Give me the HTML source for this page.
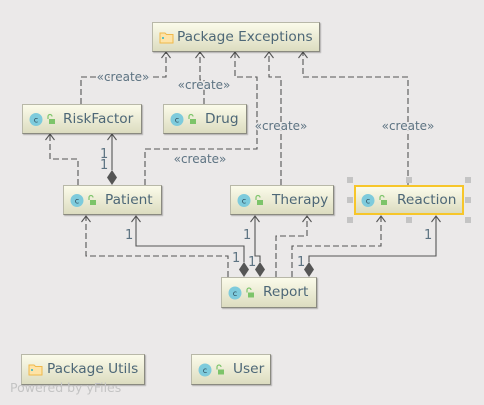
<!DOCTYPE html>
<html><head><meta charset="utf-8"><style>
html,body{margin:0;padding:0;}
body{width:484px;height:405px;background:#ebe9e9;position:relative;overflow:hidden;font-family:"DejaVu Sans","Liberation Sans",sans-serif;}
.n{position:absolute;box-sizing:border-box;border:1px solid #b8b8a8;border-right-color:#8a8a80;border-bottom-color:#8a8a80;background:linear-gradient(#fbfbea,#dcdcc0);box-shadow:1px 1px 1px rgba(0,0,0,0.25);color:#4d6777;font-size:13.7px;}
.n span{position:absolute;top:0;line-height:28px;white-space:nowrap;}
.n svg{position:absolute;top:0;left:0;}
svg.e{position:absolute;left:0;top:0;}
.ft{position:absolute;left:10px;top:380px;font-size:12.5px;color:#c4c4c4;}
</style></head><body>
<svg class="e" width="484" height="405" viewBox="0 0 484 405">
<defs>
<marker id="a" markerWidth="10" markerHeight="10" refX="5" refY="1" orient="0" markerUnits="userSpaceOnUse"><path d="M0.5,7 L5,1 L9.5,7" fill="none" stroke="#555" stroke-width="1.1"/></marker>
</defs>
<g fill="none" stroke="#555" stroke-width="1.1" stroke-dasharray="6,3">
<path d="M81,104 V77 H166 V52" marker-end="url(#a)"/>
<path d="M204,104 V80 H200 V52" marker-end="url(#a)"/>
<path d="M145,185 V149 H257 V77 H235 V52" marker-end="url(#a)"/>
<path d="M281,185 V77 H269 V52" marker-end="url(#a)"/>
<path d="M408,185 V77 H303 V52" marker-end="url(#a)"/>
<path d="M78,185 V159 H50 V134" marker-end="url(#a)"/>
<path d="M228,277 V256 H86 V216" marker-end="url(#a)"/>
<path d="M276,277 V236 H307 V216" marker-end="url(#a)"/>
<path d="M292,277 V246 H381 V216" marker-end="url(#a)"/>
</g>
<g fill="none" stroke="#555" stroke-width="1.1">
<path d="M112,170 V134" marker-end="url(#a)"/>
<path d="M244,262 V246 H136 V216" marker-end="url(#a)"/>
<path d="M260,262 V256 H255 V216" marker-end="url(#a)"/>
<path d="M309,262 V256 H436 V216" marker-end="url(#a)"/>
</g>
<g fill="#555">
<path d="M112,170 L117,177.5 L112,185 L107,177.5Z"/>
<path d="M244,262 L249,269.5 L244,277 L239,269.5Z"/>
<path d="M260,262 L265,269.5 L260,277 L255,269.5Z"/>
<path d="M309,262 L314,269.5 L309,277 L304,269.5Z"/>
</g>
<g font-family="DejaVu Sans,Liberation Sans,sans-serif" font-size="12" fill="#5d7382">
<text x="123" y="81" text-anchor="middle" stroke="#ebe9e9" stroke-width="3" paint-order="stroke">«create»</text>
<text x="204" y="89" text-anchor="middle" stroke="#ebe9e9" stroke-width="3" paint-order="stroke">«create»</text>
<text x="200" y="163" text-anchor="middle" stroke="#ebe9e9" stroke-width="3" paint-order="stroke">«create»</text>
<text x="281" y="130" text-anchor="middle" stroke="#ebe9e9" stroke-width="3" paint-order="stroke">«create»</text>
<text x="408" y="130" text-anchor="middle" stroke="#ebe9e9" stroke-width="3" paint-order="stroke">«create»</text>
<text x="100" y="158" font-size="13">1</text>
<text x="100" y="169" font-size="13">1</text>
<text x="125" y="239" font-size="13">1</text>
<text x="232" y="262" font-size="13">1</text>
<text x="243" y="239" font-size="13">1</text>
<text x="248" y="266" font-size="13">1</text>
<text x="424" y="239" font-size="13">1</text>
<text x="297" y="266" font-size="13">1</text>
</g>
<g fill="#c4c4c4">
<rect x="347" y="177" width="6" height="6"/><rect x="406" y="177" width="6" height="6"/><rect x="465" y="177" width="6" height="6"/>
<rect x="347" y="197" width="6" height="6"/><rect x="465" y="197" width="6" height="6"/>
<rect x="347" y="217" width="6" height="6"/><rect x="406" y="217" width="6" height="6"/><rect x="465" y="217" width="6" height="6"/>
</g>
</svg>

<div class="n" style="left:152px;top:22px;width:168px;height:30px;"><svg width="30" height="30"><path d="M7,10 H12 L13.5,11.5 H20 V20 H7Z" fill="#fde3a7" stroke="#f0b84a" stroke-width="1"/><rect x="9" y="14" width="2" height="2" fill="#5bbfbf"/></svg><span style="left:24px;">Package Exceptions</span></div>

<div class="n" style="left:22px;top:104px;width:120px;height:30px;"><svg width="40" height="30"><circle cx="13" cy="14.5" r="6.5" fill="#7ecbdc"/><text x="13" y="17.5" font-size="8" font-family="DejaVu Sans,sans-serif" fill="#2c4a5a" text-anchor="middle">c</text><rect x="26" y="14" width="6" height="5" fill="#7dc46a"/><path d="M25,14 V11.5 A2,2 0 0 1 29,11.5" fill="none" stroke="#7dc46a" stroke-width="1.2"/></svg><span style="left:40px;">RiskFactor</span></div>

<div class="n" style="left:163px;top:104px;width:84px;height:30px;"><svg width="40" height="30"><circle cx="13" cy="14.5" r="6.5" fill="#7ecbdc"/><text x="13" y="17.5" font-size="8" font-family="DejaVu Sans,sans-serif" fill="#2c4a5a" text-anchor="middle">c</text><rect x="26" y="14" width="6" height="5" fill="#7dc46a"/><path d="M25,14 V11.5 A2,2 0 0 1 29,11.5" fill="none" stroke="#7dc46a" stroke-width="1.2"/></svg><span style="left:41px;">Drug</span></div>

<div class="n" style="left:63px;top:185px;width:99px;height:30px;"><svg width="40" height="30"><circle cx="13" cy="14.5" r="6.5" fill="#7ecbdc"/><text x="13" y="17.5" font-size="8" font-family="DejaVu Sans,sans-serif" fill="#2c4a5a" text-anchor="middle">c</text><rect x="26" y="14" width="6" height="5" fill="#7dc46a"/><path d="M25,14 V11.5 A2,2 0 0 1 29,11.5" fill="none" stroke="#7dc46a" stroke-width="1.2"/></svg><span style="left:41px;">Patient</span></div>

<div class="n" style="left:230px;top:185px;width:104px;height:30px;"><svg width="40" height="30"><circle cx="13" cy="14.5" r="6.5" fill="#7ecbdc"/><text x="13" y="17.5" font-size="8" font-family="DejaVu Sans,sans-serif" fill="#2c4a5a" text-anchor="middle">c</text><rect x="26" y="14" width="6" height="5" fill="#7dc46a"/><path d="M25,14 V11.5 A2,2 0 0 1 29,11.5" fill="none" stroke="#7dc46a" stroke-width="1.2"/></svg><span style="left:41px;">Therapy</span></div>

<div class="n" style="left:354px;top:185px;width:110px;height:30px;border:2px solid #f7c62a;box-shadow:none;"><svg width="40" height="30" style="left:-1px;top:-1px;"><circle cx="13" cy="14.5" r="6.5" fill="#7ecbdc"/><text x="13" y="17.5" font-size="8" font-family="DejaVu Sans,sans-serif" fill="#2c4a5a" text-anchor="middle">c</text><rect x="26" y="14" width="6" height="5" fill="#7dc46a"/><path d="M25,14 V11.5 A2,2 0 0 1 29,11.5" fill="none" stroke="#7dc46a" stroke-width="1.2"/></svg><span style="left:41px;line-height:26px;">Reaction</span></div>

<div class="n" style="left:221px;top:277px;width:96px;height:31px;"><svg width="40" height="30"><circle cx="13" cy="15" r="6.5" fill="#7ecbdc"/><text x="13" y="18" font-size="8" font-family="DejaVu Sans,sans-serif" fill="#2c4a5a" text-anchor="middle">c</text><rect x="26" y="14.5" width="6" height="5" fill="#7dc46a"/><path d="M25,14.5 V12 A2,2 0 0 1 29,12" fill="none" stroke="#7dc46a" stroke-width="1.2"/></svg><span style="left:41px;line-height:29px;">Report</span></div>

<div class="n" style="left:21px;top:354px;width:124px;height:31px;"><svg width="30" height="30"><path d="M7,10 H12 L13.5,11.5 H20 V20 H7Z" fill="#fde3a7" stroke="#f0b84a" stroke-width="1"/><rect x="9" y="14" width="2" height="2" fill="#5bbfbf"/></svg><span style="left:25px;line-height:29px;">Package Utils</span></div>

<div class="n" style="left:191px;top:354px;width:80px;height:31px;"><svg width="40" height="30"><circle cx="13" cy="15" r="6.5" fill="#7ecbdc"/><text x="13" y="18" font-size="8" font-family="DejaVu Sans,sans-serif" fill="#2c4a5a" text-anchor="middle">c</text><rect x="26" y="14.5" width="6" height="5" fill="#7dc46a"/><path d="M25,14.5 V12 A2,2 0 0 1 29,12" fill="none" stroke="#7dc46a" stroke-width="1.2"/></svg><span style="left:41px;line-height:29px;">User</span></div>

<div class="ft">Powered by yFiles</div>
</body></html>
